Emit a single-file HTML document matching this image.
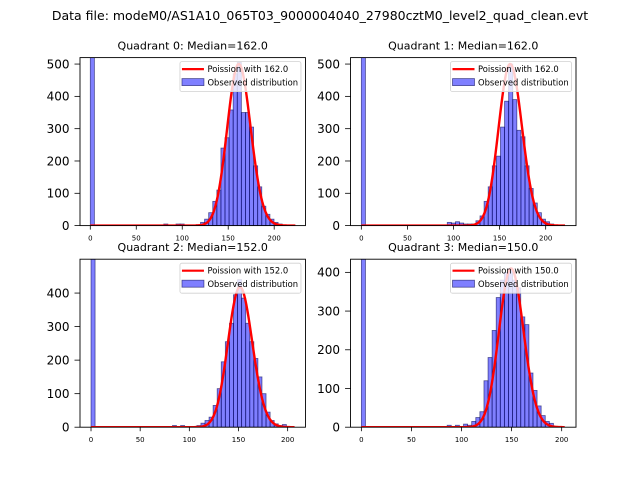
<!DOCTYPE html>
<html><head><meta charset="utf-8">
<style>
body{margin:0;background:#fff;}
svg{display:block;font-family:"DejaVu Sans","Liberation Sans",sans-serif;}
</style></head>
<body>
<svg id="fig" width="640" height="480" viewBox="0 0 640 480" xmlns="http://www.w3.org/2000/svg">
<rect width="640" height="480" fill="#fff"/>
<text x="320" y="20" font-size="12.5" text-anchor="middle" fill="#000">Data file: modeM0/AS1A10_065T03_9000004040_27980cztM0_level2_quad_clean.evt</text>
</svg>
<script>
// ---- chart data ----
const quadNames = ["Quadrant 0", "Quadrant 1", "Quadrant 2", "Quadrant 3"];
const medians = [162.0, 162.0, 152.0, 150.0];
const binWidths = [4.44, 4.44, 4.14, 4.08];
const counts0 = {0:2000,18:5,21:5,22:5,26:3,27:10,28:20,29:40,30:75,31:110,32:240,33:272,34:358,35:470,36:505,37:350,38:350,39:305,40:185,41:120,42:60,43:35,44:20,45:10,46:5};
const counts1 = {0:2000,21:10,22:8,23:12,24:8,25:5,26:5,27:5,28:15,29:30,30:75,31:120,32:185,33:215,34:305,35:385,36:500,37:390,38:295,39:275,40:185,41:115,42:70,43:40,44:20,45:12,46:5};
const counts2 = {0:2000,20:5,22:5,26:5,27:12,28:20,29:30,30:65,31:115,32:195,33:255,34:310,35:395,36:440,37:385,38:310,39:255,40:205,41:150,42:100,43:45,44:20,45:10,46:5,47:8};
const counts3 = {0:2000,21:5,23:5,25:8,26:5,27:15,28:25,29:40,30:120,31:180,32:250,33:335,34:380,35:400,36:410,37:380,38:360,39:285,40:265,41:140,42:95,43:55,44:30,45:15,46:10};
const allCounts = [counts0, counts1, counts2, counts3];
const poissonPeaks = [500, 500, 418, 410];
const xDomains = [[-11.2,234],[-11.7,232.9],[-11.2,218.1],[-10.8,214.3]];
const yMaxes = [520, 520, 501, 434];
const xTicks = [0, 50, 100, 150, 200];
const yTickSets = [[0,100,200,300,400,500],[0,100,200,300,400,500],[0,100,200,300,400],[0,100,200,300,400]];

// ---- layout ----
const NS = "http://www.w3.org/2000/svg";
const svg = document.getElementById('fig');
const axW = 225.45, axH = 168;
const lefts = [80, 350.55, 80, 350.55];
const tops = [57.6, 57.6, 259.2, 259.2];
function mk(tag, attrs, parent){const e=document.createElementNS(NS,tag);for(const k in attrs)e.setAttribute(k,attrs[k]);(parent||svg).appendChild(e);return e;}
function lgamma(n){let s=0;for(let k=2;k<=n;k++)s+=Math.log(k);return s;}
function logpmf(k,l){return k*Math.log(l)-l-lgamma(k);}

for(let q=0;q<4;q++){
  const L=lefts[q], T=tops[q], B=T+axH, R=L+axW;
  const [x0,x1]=xDomains[q], ymax=yMaxes[q];
  const xs=v=>L+(v-x0)/(x1-x0)*axW;
  const ys=v=>B-v/ymax*axH;
  const g=mk('g',{});
  
  
  const clipId='clip'+q;
  const cp=mk('clipPath',{id:clipId},g);
  mk('rect',{x:L,y:T,width:axW,height:axH},cp);
  const bars=mk('g',{'clip-path':'url(#'+clipId+')'},g);
  const counts=allCounts[q], bw=binWidths[q];
  for(const k in counts){
    const i=+k, v=counts[k];
    const r=mk('rect',{x:xs(i*bw),y:ys(v),width:xs((i+1)*bw)-xs(i*bw),height:B-ys(v),fill:'rgba(0,0,255,0.5)',stroke:'rgba(0,0,80,0.6)','stroke-width':0.8},bars);
    
    
  }
  // poisson curve
  const lam=medians[q], ref=logpmf(Math.floor(lam),lam);
  const kmax=Math.round(x1-11.5);
  let d='';
  for(let k=0;k<=kmax;k++){d+=(k?'L':'M')+xs(k).toFixed(2)+','+ys(poissonPeaks[q]*Math.exp(logpmf(k,lam)-ref)).toFixed(2);}
  const curve=mk('path',{d:d,fill:'none',stroke:'#ff0000','stroke-width':2.4,'clip-path':'url(#'+clipId+')'},g);
  
  
  // frame
  const fr=mk('rect',{x:L,y:T,width:axW,height:axH,fill:'none',stroke:'#000','stroke-width':0.9},g);
  
  
  // x ticks
  xTicks.forEach(t=>{
    const x=xs(t);
    mk('line',{x1:x,x2:x,y1:B,y2:B+4,stroke:'#000','stroke-width':0.8},g);
    const tx=mk('text',{x:x,y:B+15,'font-size':7,'text-anchor':'middle'},g);
    tx.textContent=t;
    
    
  });
  yTickSets[q].forEach(t=>{
    const y=ys(t);
    mk('line',{x1:L-5.5,x2:L,y1:y,y2:y,stroke:'#000','stroke-width':0.8},g);
    const ty=mk('text',{x:L-10.5,y:y+4.3,'font-size':12,'text-anchor':'end'},g);
    ty.textContent=t;
    
    
  });
  // title
  const tt=mk('text',{x:L+axW/2,y:T-8,'font-size':11,'text-anchor':'middle'},g);
  tt.textContent=quadNames[q]+': Median='+medians[q].toFixed(1);
  
  
  // legend
  const lg=mk('g',{},g);
  
  
  const lw=121, lh=30, lx=R-4.5-lw, ly=T+4;
  mk('rect',{x:lx,y:ly,width:lw,height:lh,rx:2,fill:'rgba(255,255,255,0.8)',stroke:'#d0d0d0','stroke-width':0.8},lg);
  mk('line',{x1:lx+2,x2:lx+24,y1:ly+7.5,y2:ly+7.5,stroke:'#ff0000','stroke-width':2.2},lg);
  const l1=mk('text',{x:lx+27.5,y:ly+10.5,'font-size':8.4},lg);
  l1.textContent='Poission with '+medians[q].toFixed(1);
  mk('rect',{x:lx+2,y:ly+17,width:22,height:7,fill:'rgba(0,0,255,0.5)',stroke:'rgba(0,0,80,0.6)','stroke-width':0.8},lg);
  const l2=mk('text',{x:lx+27.5,y:ly+23.7,'font-size':8.4},lg);
  l2.textContent='Observed distribution';
}
</script>
</body></html>
